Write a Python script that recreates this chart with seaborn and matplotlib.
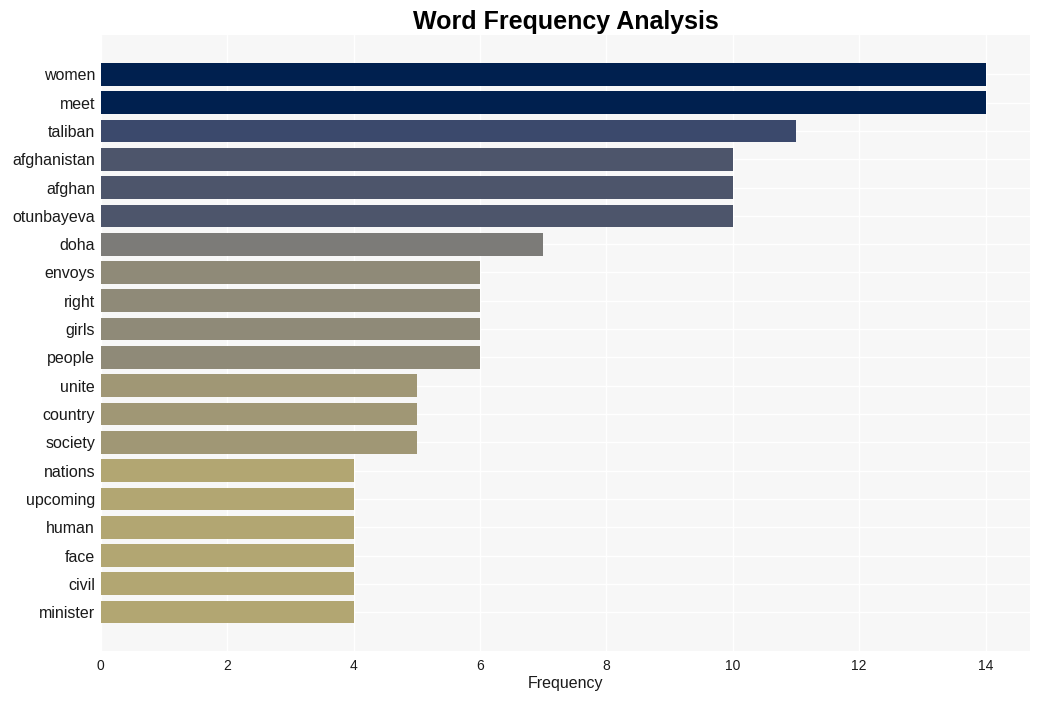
import matplotlib
matplotlib.use("Agg")
import matplotlib.pyplot as plt
import seaborn as sns
import pandas as pd

words = ["women", "meet", "taliban", "afghanistan", "afghan", "otunbayeva", "doha",
         "envoys", "right", "girls", "people", "unite", "country", "society",
         "nations", "upcoming", "human", "face", "civil", "minister"]
freqs = [14, 14, 11, 10, 10, 10, 7, 6, 6, 6, 6, 5, 5, 5, 4, 4, 4, 4, 4, 4]
value_colors = {14: "#00204f", 11: "#3b496c", 10: "#4d556b", 7: "#7c7b78",
                6: "#8f8a78", 5: "#a09775", 4: "#b2a672"}

df = pd.DataFrame({"word": words, "freq": freqs})
palette = [value_colors[v] for v in freqs]

sns.set_theme(style="whitegrid")
plt.rcParams["font.family"] = ["Liberation Sans", "DejaVu Sans"]

fig = plt.figure(figsize=(10.4, 7.01), dpi=100)
ax = fig.add_axes([0.0968, 0.0713, 0.8935, 0.8781])
ax.set_facecolor("#f7f7f7")

sns.barplot(data=df, x="freq", y="word", hue="word", palette=palette,
            legend=False, width=0.8, ax=ax, saturation=1, linewidth=0)

n = len(words)
ax.set_ylim(n - 1 + 0.4 + 0.975, -0.4 - 0.975)
ax.set_xlim(0, 14.7)
ax.set_xticks([0, 2, 4, 6, 8, 10, 12, 14])
ax.grid(True, color="white", linewidth=1)
ax.set_axisbelow(True)
for s in ax.spines.values():
    s.set_visible(False)
ax.tick_params(axis="y", labelsize=11.5, length=0, pad=4, labelcolor="#1a1a1a")
ax.tick_params(axis="x", labelsize=10, length=0, pad=6, labelcolor="#1a1a1a")
ax.set_xlabel("Frequency", fontsize=11.5, color="#1a1a1a", labelpad=2)
ax.set_ylabel("")
fig.suptitle("Word Frequency Analysis", fontsize=18, fontweight="bold", x=0.544, y=0.986,
             color="black")

fig.savefig("out.png", dpi=100, facecolor="white")
